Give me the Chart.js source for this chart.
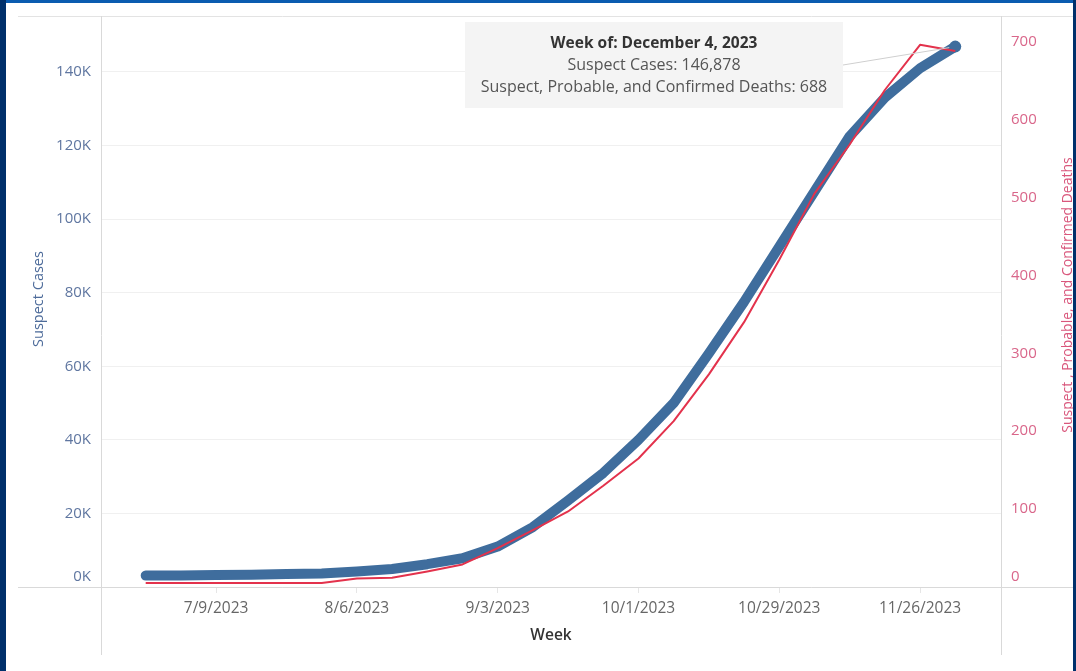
<!DOCTYPE html>
<html><head><meta charset="utf-8">
<script src="https://cdn.jsdelivr.net/npm/chart.js@4.4.1/dist/chart.umd.min.js"></script>
<style>
html,body{margin:0;padding:0;background:#fff;width:1076px;height:671px;overflow:hidden}
canvas{position:absolute;left:0;top:0}
.bl{position:absolute;left:0;top:0;width:6px;height:671px;background:#00306b}
.bt{position:absolute;left:0;top:0;width:1076px;height:3px;background:#0b5cb0}
.br{position:absolute;right:0;top:0;width:3px;height:671px;background:#00306b}
</style></head>
<body>
<canvas id="c" width="1076" height="671"></canvas>
<div class="bt"></div><div class="bl"></div><div class="br"></div>
<script>
const weeks = ['6/25/2023','7/2/2023','7/9/2023','7/16/2023','7/23/2023','7/30/2023','8/6/2023','8/13/2023','8/20/2023','8/27/2023','9/3/2023','9/10/2023','9/17/2023','9/24/2023','10/1/2023','10/8/2023','10/15/2023','10/22/2023','10/29/2023','11/5/2023','11/12/2023','11/19/2023','11/26/2023','12/3/2023'];
const suspectCases = [3100,3150,3250,3350,3500,3700,4200,4900,6200,7800,11000,16300,23500,31000,40000,50000,63500,77500,92500,107500,122500,133000,141000,146878];
const deaths = [5,5,5,5,5,5,11,12,20,29,50,73,97,130,165,213,273,340,420,505,568,638,696,688];
const xTickIdx = [2,6,10,14,18,22];
const leftTicks = [0,20000,40000,60000,80000,100000,120000,140000];
const rightTicks = [0,100,200,300,400,500,600,700];
const tooltipTitle = 'Week of: December 4, 2023';

const FONT = '"Open Sans", "Noto Sans", sans-serif';
const BLUE = '#3f6d9d';
const RED = '#e3324c';

const deco = {
  id: 'deco',
  beforeDatasetsDraw(chart) {
    const ctx = chart.ctx, a = chart.chartArea;
    ctx.save();
    ctx.strokeStyle = '#e3e3e3';
    ctx.lineWidth = 1;
    ctx.beginPath();
    ctx.moveTo(18, a.top + 0.5); ctx.lineTo(1076, a.top + 0.5);
    ctx.stroke();
    ctx.strokeStyle = '#d9d9d9';
    ctx.beginPath();
    ctx.moveTo(18, a.bottom + 0.5); ctx.lineTo(1076, a.bottom + 0.5);
    ctx.moveTo(a.left + 0.5, a.top); ctx.lineTo(a.left + 0.5, 655);
    ctx.moveTo(a.right + 0.5, a.top); ctx.lineTo(a.right + 0.5, 655);
    ctx.stroke();

    const ys = chart.scales.y, yr = chart.scales.y1;
    ctx.font = '15px ' + FONT;
    ctx.textBaseline = 'middle';
    ctx.fillStyle = '#5f76a0';
    ctx.textAlign = 'right';
    leftTicks.forEach(v => {
      let y = ys.getPixelForValue(v);
      if (v === 0) y -= 10;
      ctx.fillText((v / 1000) + 'K', a.left - 10, y);
    });
    ctx.fillStyle = '#d9668a';
    ctx.textAlign = 'left';
    rightTicks.forEach(v => {
      let y = yr.getPixelForValue(v);
      if (v === 0) y -= 10;
      ctx.fillText(String(v), a.right + 10, y);
    });

    ctx.font = '14.5px ' + FONT;
    ctx.textAlign = 'center';
    ctx.fillStyle = '#4d6b9a';
    ctx.save();
    ctx.translate(39, 299);
    ctx.rotate(-Math.PI / 2);
    ctx.fillText('Suspect Cases', 0, 0);
    ctx.restore();
    ctx.font = '14px ' + FONT;
    ctx.fillStyle = '#d9577c';
    ctx.save();
    ctx.translate(1068, 295);
    ctx.rotate(-Math.PI / 2);
    ctx.fillText('Suspect , Probable, and Confirmed Deaths', 0, 0);
    ctx.restore();

    ctx.font = '600 15.5px ' + FONT;
    ctx.fillStyle = '#333';
    ctx.fillText('Week', (a.left + a.right) / 2, 636);
    ctx.restore();
  },
  afterDatasetsDraw(chart) {
    const ctx = chart.ctx;
    const last = suspectCases.length - 1;
    const px = chart.scales.x.getPixelForValue(last);
    const py = chart.scales.y.getPixelForValue(suspectCases[last]);
    ctx.save();
    ctx.strokeStyle = '#cfcfcf';
    ctx.lineWidth = 1;
    ctx.beginPath();
    ctx.moveTo(843, 65); ctx.lineTo(px - 6, py + 1);
    ctx.stroke();
    ctx.fillStyle = 'rgba(244,244,244,0.96)';
    ctx.fillRect(465, 22, 378, 86);
    ctx.textAlign = 'center';
    ctx.textBaseline = 'middle';
    ctx.fillStyle = '#333';
    ctx.font = 'bold 15.5px ' + FONT;
    ctx.fillText(tooltipTitle, 654, 44);
    ctx.font = '16px ' + FONT;
    ctx.fillStyle = '#555';
    ctx.fillText('Suspect Cases: ' + suspectCases[last].toLocaleString('en-US'), 654, 65);
    ctx.fillText('Suspect, Probable, and Confirmed Deaths: ' + deaths[last].toLocaleString('en-US'), 654, 87);
    ctx.restore();
  }
};

new Chart(document.getElementById('c'), {
  type: 'line',
  data: {
    datasets: [
      {
        label: 'Suspect Cases',
        data: suspectCases.map((v, i) => ({x: i, y: v})),
        yAxisID: 'y',
        borderColor: BLUE,
        backgroundColor: BLUE,
        borderWidth: 10,
        borderCapStyle: 'round',
        borderJoinStyle: 'round',
        tension: 0,
        pointRadius: c => c.dataIndex === suspectCases.length - 1 ? 6 : 0,
        pointBorderWidth: 0,
        pointBackgroundColor: BLUE,
        order: 2
      },
      {
        label: 'Suspect, Probable, and Confirmed Deaths',
        data: deaths.map((v, i) => ({x: i, y: v})),
        yAxisID: 'y1',
        borderColor: RED,
        backgroundColor: RED,
        borderWidth: 2,
        borderJoinStyle: 'round',
        tension: 0,
        pointRadius: 0,
        order: 1
      }
    ]
  },
  options: {
    responsive: false,
    animation: false,
    layout: {padding: {top: 16, left: 0, right: 0, bottom: 0}},
    plugins: {legend: {display: false}, tooltip: {enabled: false}},
    scales: {
      x: {
        type: 'linear',
        min: -1.27, max: 24.3,
        afterFit: s => { s.height = 84; },
        afterBuildTicks: s => { s.ticks = xTickIdx.map(v => ({value: v})); },
        border: {display: false},
        grid: {drawOnChartArea: false, drawTicks: true, tickLength: 6, color: '#e6e6e6'},
        ticks: {
          autoSkip: false, maxRotation: 0, padding: 6,
          color: '#666', font: {size: 15.5, family: FONT},
          callback: v => weeks[v]
        }
      },
      y: {
        position: 'left',
        min: 0, max: 155200,
        afterFit: s => { s.width = 101; },
        afterBuildTicks: s => { s.ticks = leftTicks.map(v => ({value: v})); },
        border: {display: false},
        grid: {color: '#f0f0f0', drawTicks: false},
        ticks: {display: false}
      },
      y1: {
        position: 'right',
        min: 0, max: 733,
        afterFit: s => { s.width = 75; },
        afterBuildTicks: s => { s.ticks = rightTicks.map(v => ({value: v})); },
        border: {display: false},
        grid: {display: false},
        ticks: {display: false}
      }
    }
  },
  plugins: [deco]
});
</script>
</body></html>
